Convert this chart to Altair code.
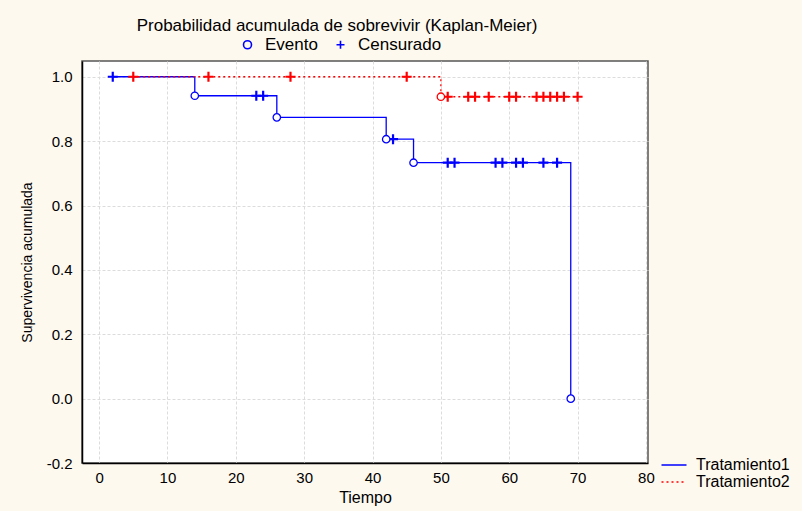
import altair as alt
import pandas as pd

FUENTE = "Liberation Sans"

grupos = ["Tratamiento1", "Tratamiento2"]
colores = ["#0000FF", "#FF0000"]
tipos = ["Evento", "Censurado"]

# Tratamiento1: step curve (time, cumulative survival)
t1_pasos = [2, 14, 26, 42, 46, 69]
s1_pasos = [1.0, 0.941, 0.874, 0.806, 0.733, 0.0]
t1_eventos = [14, 26, 42, 46, 69]
t1_censura = [2, 23, 24, 43, 51, 52, 58, 59, 61, 62, 65, 67]

# Tratamiento2
t2_pasos = [5, 50, 70]
s2_pasos = [1.0, 0.938, 0.938]
t2_eventos = [50]
t2_censura = [5, 16, 28, 45, 51, 54, 55, 57, 60, 61, 64, 65, 66, 67, 68, 70]

x_ticks = [0, 10, 20, 30, 40, 50, 60, 70, 80]
y_ticks = [-0.2, 0.0, 0.2, 0.4, 0.6, 0.8, 1.0]

titulo = "Probabilidad acumulada de sobrevivir (Kaplan-Meier)"


def nivel(t, tp, sp):
    s = sp[0]
    for a, b in zip(tp, sp):
        if t >= a:
            s = b
    return s


filas_l = []
for g, tp, sp in [(grupos[0], t1_pasos, s1_pasos), (grupos[1], t2_pasos, s2_pasos)]:
    for a, b in zip(tp, sp):
        filas_l.append({"grupo": g, "tiempo": a, "surv": b})
df_l = pd.DataFrame(filas_l)

filas_p = []
for g, tp, sp, ev, ce in [
    (grupos[0], t1_pasos, s1_pasos, t1_eventos, t1_censura),
    (grupos[1], t2_pasos, s2_pasos, t2_eventos, t2_censura),
]:
    for t in ce:
        filas_p.append({"grupo": g, "tipo": tipos[1], "tiempo": t, "surv": nivel(t, tp, sp)})
    for t in ev:
        filas_p.append({"grupo": g, "tipo": tipos[0], "tiempo": t, "surv": nivel(t, tp, sp)})
df_p = pd.DataFrame(filas_p)

x_enc = alt.X(
    "tiempo:Q",
    scale=alt.Scale(domain=[-2.5, 80.3], nice=False, zero=False),
    axis=alt.Axis(
        values=x_ticks, format="d", title="Tiempo",
        titleX=283, titleY=34, titleAlign="center", titleBaseline="middle",
        titleFontSize=16, labelPadding=7,
    ),
)
y_enc = alt.Y(
    "surv:Q",
    scale=alt.Scale(domain=[-0.2, 1.049], nice=False, zero=False),
    axis=alt.Axis(
        values=y_ticks, format=".1f", title="Supervivencia acumulada",
        labelExpr="replace(datum.label, '\u2212', '-')",
        titleX=-55, titleY=201, titleAngle=270, titleAlign="center",
        titleBaseline="middle", titleFontSize=14, labelPadding=10,
    ),
)

leyenda_lineas = alt.Legend(
    title=None, orient="none", legendX=584, legendY=396,
    symbolType="M-2.5,0H2.5", symbolSize=100, symbolStrokeWidth=1.5,
    labelFontSize=16, labelFont=FUENTE, rowPadding=1, labelOffset=14, padding=0,
)

lineas = alt.Chart(df_l).mark_line(interpolate="step-after", strokeWidth=1.3).encode(
    x=x_enc,
    y=y_enc,
    color=alt.Color("grupo:N", scale=alt.Scale(domain=grupos, range=colores), legend=leyenda_lineas),
    strokeDash=alt.StrokeDash(
        "grupo:N", scale=alt.Scale(domain=grupos, range=[[1, 0], [2, 3]]), legend=leyenda_lineas
    ),
)

leyenda_marcas = alt.Legend(
    title=None, orient="none", direction="horizontal", legendX=157, legendY=-25,
    symbolStrokeColor="#0000FF", symbolFillColor="white", symbolSize=64,
    symbolStrokeWidth=1.6, symbolOpacity=1, labelFontSize=17, labelFont=FUENTE,
    columnPadding=14, labelOffset=9, padding=0,
)
forma_enc = alt.Shape(
    "tipo:N",
    scale=alt.Scale(domain=tipos, range=["circle", "M-1,0H1M0,-1V1"]),
    legend=leyenda_marcas,
)

capas_puntos = []
for g, c in [(grupos[1], colores[1]), (grupos[0], colores[0])]:
    base = alt.Chart(df_p).transform_filter(alt.datum.grupo == g)
    cruces = base.transform_filter(alt.datum.tipo == tipos[1]).mark_point(
        stroke=c, strokeWidth=2.2, size=100, opacity=1
    ).encode(x="tiempo:Q", y="surv:Q", shape=forma_enc)
    circulos = base.transform_filter(alt.datum.tipo == tipos[0]).mark_point(
        stroke=c, strokeWidth=1.3, size=55, fill="white", filled=False, opacity=1
    ).encode(x="tiempo:Q", y="surv:Q", shape=forma_enc, fill=alt.value("white"))
    capas_puntos += [cruces, circulos]

texto_titulo = alt.Chart(pd.DataFrame({"titulo": [titulo]})).mark_text(
    font=FUENTE, fontSize=17, align="center", baseline="middle", color="black"
).encode(text="titulo:N", x=alt.value(255), y=alt.value(-35))

chart = (
    alt.layer(lineas, *capas_puntos, texto_titulo)
    .properties(
        width=566, height=402,
        autosize=alt.AutoSizeParams(type="none"),
        padding={"left": 82, "top": 61, "right": 154, "bottom": 48},
        background="#FEF9EF",
    )
    .configure_view(fill="white", stroke="#555555", strokeWidth=1.5)
    .configure_axis(
        labelFont=FUENTE, titleFont=FUENTE, labelFontSize=15, labelColor="black",
        titleColor="black", titleFontWeight="normal", ticks=False, tickSize=0,
        domainColor="black", domainWidth=1.5, gridColor="#dcdcdc", gridDash=[3, 2],
        gridWidth=1,
    )
    .configure_legend(labelColor="black")
)

chart.save("out.html", embed_options={"renderer": "svg", "actions": False})
